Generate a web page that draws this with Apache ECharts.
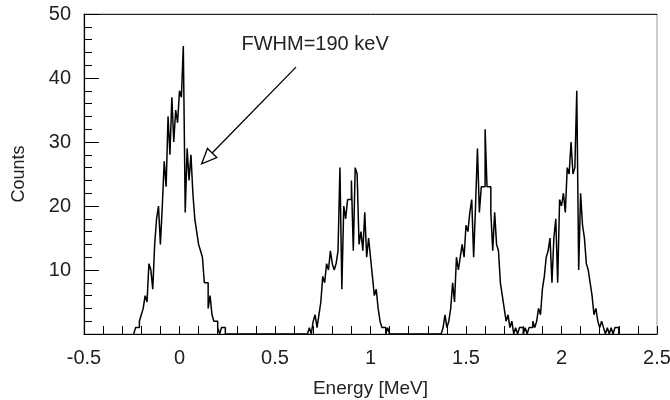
<!DOCTYPE html>
<html><head><meta charset="utf-8">
<script src="https://cdn.jsdelivr.net/npm/echarts@6/dist/echarts.min.js"></script>
<style>html,body{margin:0;padding:0;background:#fff}#c{width:670px;height:400px}</style>
</head><body><div id="c"></div>
<script>
// ---- data ----
const binWidth = 0.01;               // MeV per histogram bin
const xTickValues = [-0.5, 0, 0.5, 1, 1.5, 2, 2.5];
const yTickLabels = ['', '10', '20', '30', '40', '50'];

const peak1Start = -0.24;
const peak1Counts = [0,1,1,2,3,4,6,5,11,10,7,14,18,20,14,20,27,23,34,28,37,30,35,33,38,37,45,19,29,24,28,22,18,16,14,13,12,8,8,4,6,3,2,2,1,0,1,1,0];

const peak2Start = 0.67;
const peak2Counts = [0,1,0,2,3,1,3,5,9,8,11,10,13,11,10,11,13,26,7,20,18,21,21,24,13,26,25,14,16,13,19,12,15,12,9,6,7,4,2,1,1,0,1,0];

const peak3Start = 1.37;
const peak3Counts = [0,1,3,1,2,4,8,5,12,10,12,14,12,17,16,19,21,12,20,29,19,23,23,32,23,23,19,13,19,14,13,8,6,4,2,3,1,2,0,1,0,1,1,0,1,0,1];

const peak4Start = 1.84;
const peak4Counts = [1,2,1,2,4,3,7,9,12,13,15,8,15,18,8,21,20,22,19,26,25,30,25,26,38,10,22,17,15,11,10,8,6,3,4,2,1,2,1,0,1,0,1,0,1,1,0];

const annotationText = 'FWHM=190 keV';
const arrowFrom = [0.61, 41.7];   // data coords
const arrowTo = [0.116, 26.6];
const labelAt = [0.71, 45.3];

// ---- build ----
const peaks = [[peak1Start, peak1Counts], [peak2Start, peak2Counts], [peak3Start, peak3Counts], [peak4Start, peak4Counts]];
const data = [];
peaks.forEach(([s, arr]) => {
  arr.forEach((v, i) => data.push([Math.round((s + i * binWidth) * 1000) / 1000, v]));
});

const FONT = 'Liberation Sans, Arial, sans-serif';
const chart = echarts.init(document.getElementById('c'), null, {renderer: 'canvas'});
chart.setOption({
  animation: false,
  backgroundColor: '#fff',
  grid: {left: 84, right: 13, top: 14, bottom: 66, outerBoundsMode: 'none', containLabel: false,
    show: true, borderColor: '#9a9a9a', borderWidth: 1},
  xAxis: [{
    type: 'value', min: -0.5, max: 2.5, interval: 0.5,
    axisLine: {show: true, onZero: false, lineStyle: {color: '#000', width: 1.2}},
    axisTick: {show: true, inside: true, length: 8, lineStyle: {color: '#000'}},
    minorTick: {show: true, splitNumber: 5, length: 8, lineStyle: {color: '#000'}},
    splitLine: {show: false},
    axisLabel: {fontSize: 20, color: '#222', fontFamily: FONT, margin: 14,
      formatter: v => { const t = xTickValues.find(x => Math.abs(x - v) < 1e-6); return t === undefined ? '' : String(t); }},
    name: 'Energy [MeV]', nameLocation: 'middle', nameGap: 45,
    nameTextStyle: {fontSize: 19, color: '#222', fontFamily: FONT}
  }, {
    type: 'value', position: 'top', min: -0.5, max: 2.5,
    axisLine: {show: true, onZero: false, lineStyle: {color: '#222', width: 1}},
    axisTick: {show: false}, axisLabel: {show: false}, splitLine: {show: false}
  }],
  yAxis: {
    type: 'value', min: 0, max: 50, interval: 10,
    axisLine: {show: true, onZero: false, lineStyle: {color: '#000', width: 1.2}},
    axisTick: {show: true, inside: true, length: 15, lineStyle: {color: '#000'}},
    minorTick: {show: true, splitNumber: 5, length: 8, lineStyle: {color: '#000'}},
    splitLine: {show: false},
    axisLabel: {fontSize: 20, color: '#222', fontFamily: FONT, margin: 13,
      formatter: v => yTickLabels[Math.round(v / 10)] || ''},
    name: 'Counts', nameLocation: 'middle', nameGap: 56,
    nameTextStyle: {fontSize: 18, color: '#222', fontFamily: FONT}
  },
  series: [{
    type: 'line', step: 'end', data: data, xAxisIndex: 0,
    showSymbol: false, symbol: 'none',
    lineStyle: {color: '#000', width: 1.5}
  }]
});

// annotation arrow (positions converted from data coordinates)
const p0 = chart.convertToPixel({gridIndex: 0}, arrowFrom);
const p1 = chart.convertToPixel({gridIndex: 0}, arrowTo);
const pt = chart.convertToPixel({gridIndex: 0}, labelAt);
const dx = p1[0] - p0[0], dy = p1[1] - p0[1];
const L = Math.hypot(dx, dy), ux = dx / L, uy = dy / L;
const headLen = 15, headHalf = 6.5;
const bx = p1[0] - ux * headLen, by = p1[1] - uy * headLen;
const nx = -uy, ny = ux;
chart.setOption({
  graphic: [
    {type: 'line', shape: {x1: p0[0], y1: p0[1], x2: bx, y2: by}, style: {stroke: '#000', lineWidth: 1.3}, z: 100},
    {type: 'polygon', shape: {points: [[p1[0], p1[1]], [bx + nx * headHalf, by + ny * headHalf], [bx - nx * headHalf, by - ny * headHalf]]},
      style: {fill: '#fff', stroke: '#000', lineWidth: 1.3}, z: 100},
    {type: 'text', x: pt[0], y: pt[1], style: {text: annotationText, fontSize: 20, fontFamily: FONT, fill: '#222', align: 'center', verticalAlign: 'middle'}, z: 100}
  ]
});
</script>
</body></html>
